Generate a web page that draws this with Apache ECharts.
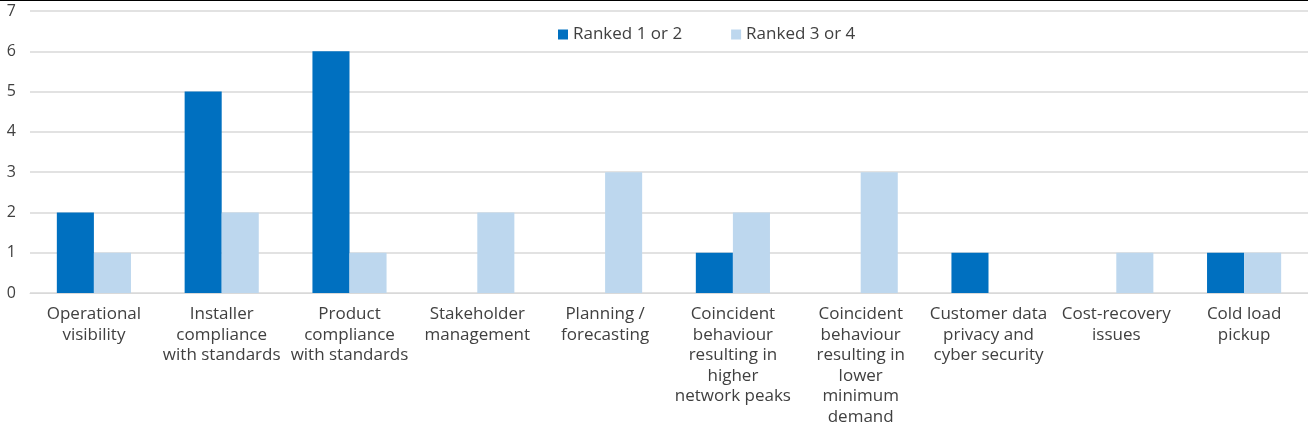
<!DOCTYPE html>
<html><head><meta charset="utf-8">
<script src="https://cdn.jsdelivr.net/npm/echarts@6/dist/echarts.min.js"></script>
<style>html,body{margin:0;padding:0;background:#fff}#c{width:1308px;height:434px}</style>
</head><body><div id="c"></div>
<script>
const categories = ["Operational\nvisibility","Installer\ncompliance\nwith standards","Product\ncompliance\nwith standards","Stakeholder\nmanagement","Planning /\nforecasting","Coincident\nbehaviour\nresulting in\nhigher\nnetwork peaks","Coincident\nbehaviour\nresulting in\nlower\nminimum\ndemand","Customer data\nprivacy and\ncyber security","Cost-recovery\nissues","Cold load\npickup"];
const ranked12 = [2,5,6,0,0,1,0,1,0,1];
const ranked34 = [1,2,1,2,3,2,3,0,1,1];
const seriesNames = ["Ranked 1 or 2","Ranked 3 or 4"];
const font = "Open Sans";
const chart = echarts.init(document.getElementById('c'));
chart.setOption({
  animation:false,
  textStyle:{fontFamily:font},
  graphic:[{type:'rect',shape:{x:0,y:0,width:1308,height:1},style:{fill:'#000'}}],
  legend:{top:21,left:553,itemWidth:10,itemHeight:10,itemGap:49,icon:'rect',
    textStyle:{fontFamily:font,fontSize:17,color:'#404040'},data:seriesNames},
  grid:{left:30,right:0,top:11,bottom:141,containLabel:false},
  xAxis:{type:'category',data:categories,
    axisLine:{show:true,lineStyle:{color:'#D9D9D9',width:1}},axisTick:{show:false},
    axisLabel:{interval:0,margin:11,fontFamily:font,fontSize:17,lineHeight:20.5,color:'#404040'}},
  yAxis:{type:'value',min:0,max:7,interval:1,
    axisLine:{show:false},axisTick:{show:false},
    splitLine:{lineStyle:{color:'#D9D9D9',width:1.5}},
    axisLabel:{margin:14,fontFamily:font,fontSize:16,color:'#404040'}},
  series:[
    {name:seriesNames[0],type:'bar',data:ranked12,barWidth:'29%',barGap:'0%',itemStyle:{color:'#0070C0'}},
    {name:seriesNames[1],type:'bar',data:ranked34,barWidth:'29%',itemStyle:{color:'#BDD7EE'}}
  ]
});
</script></body></html>
